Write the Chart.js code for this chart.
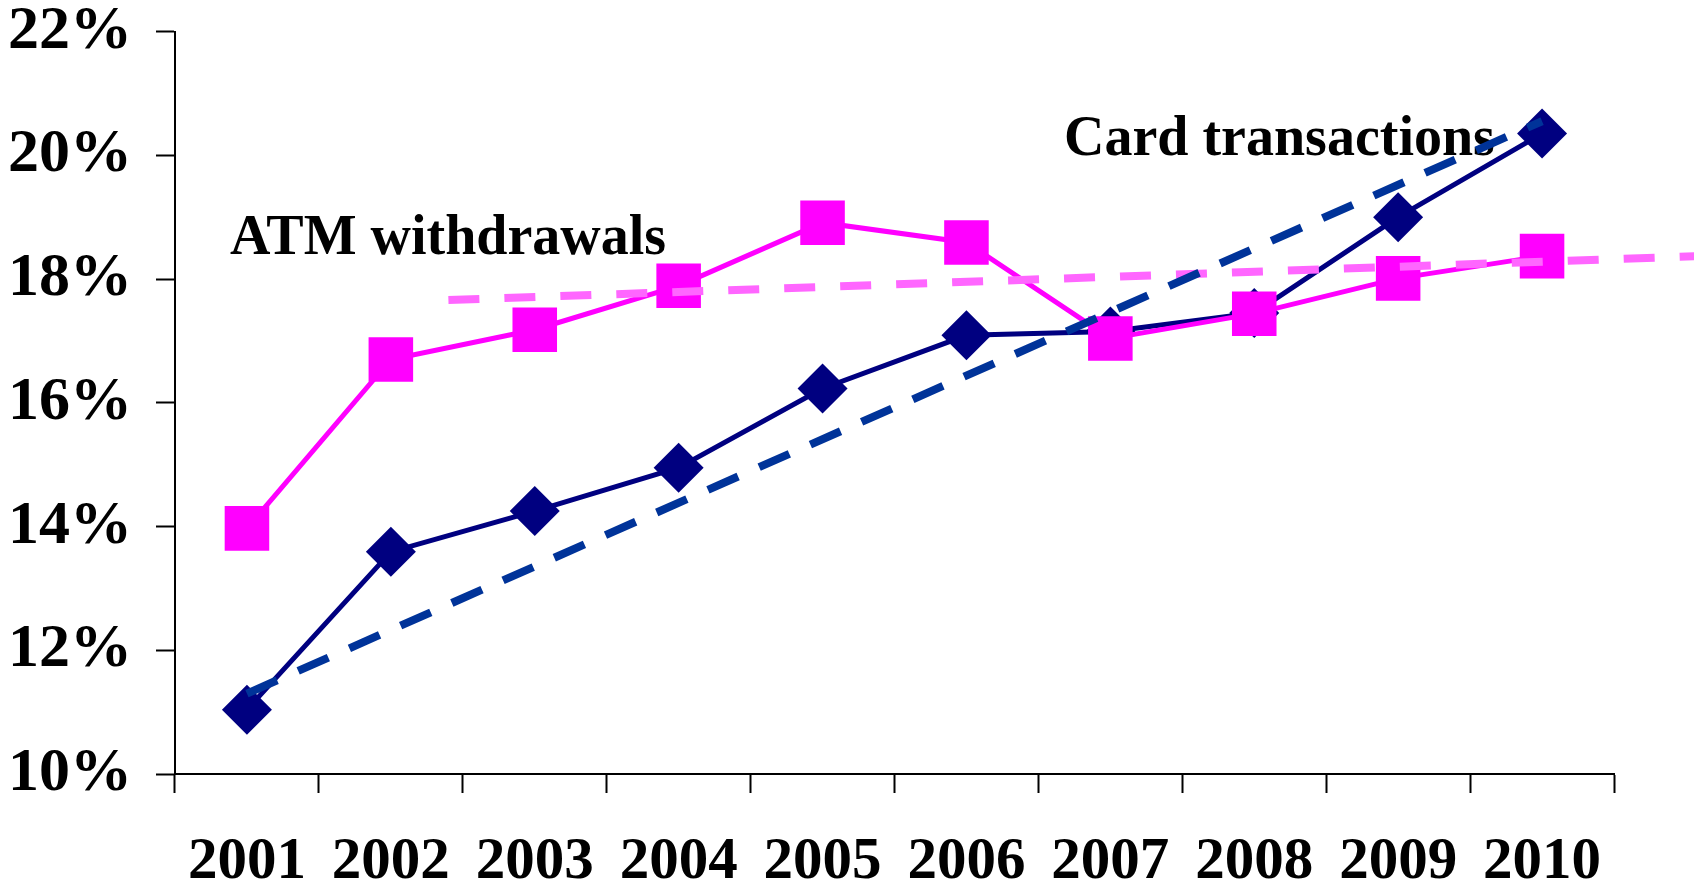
<!DOCTYPE html>
<html>
<head>
<meta charset="utf-8">
<script src="https://cdn.jsdelivr.net/npm/chart.js@4.4.1/dist/chart.umd.min.js"></script>
<style>
  html, body { margin: 0; padding: 0; background: #fff; }
  #wrap { width: 1694px; height: 885px; position: relative; }
</style>
</head>
<body>
<div id="wrap"><canvas id="shareChart"></canvas></div>
<script>
// values (percent)
const years = ['2001', '2002', '2003', '2004', '2005', '2006', '2007', '2008', '2009', '2010'];
const cardTransactions = [11.04, 13.59, 14.25, 14.95, 16.23, 17.09, 17.15, 17.45, 19.0, 20.35];
const atmWithdrawals = [13.97, 16.7, 17.18, 17.89, 18.91, 18.59, 17.04, 17.44, 18.01, 18.37];

// trend lines: start / end points (year, percent)
const cardTrendYears = [2001, 2010];
const cardTrendValues = [11.3, 20.55];
const atmTrendYears = [2002.4, 2011.1];
const atmTrendValues = [17.66, 18.37];

const serif = "'Liberation Serif', 'Times New Roman', serif";

function toPoints(xs, ys) {
  return xs.map((x, i) => ({ x: x, y: ys[i] }));
}

// series names written inside the plot
const seriesLabels = {
  id: 'seriesLabels',
  beforeDatasetsDraw(chart) {
    const { ctx, chartArea, scales } = chart;
    ctx.save();
    ctx.font = 'bold 56px ' + serif;
    ctx.fillStyle = '#000';
    ctx.textBaseline = 'alphabetic';
    ctx.fillText('ATM withdrawals', chartArea.left + 55, scales.y.getPixelForValue(18.4));
    ctx.fillText('Card transactions', chartArea.left + 889, scales.y.getPixelForValue(20.0));
    ctx.restore();
  }
};

const ctx = document.getElementById('shareChart');

new Chart(ctx, {
  type: 'line',
  data: {
    labels: years,
    datasets: [
      {
        label: 'Card trend',
        data: toPoints(cardTrendYears, cardTrendValues),
        xAxisID: 'xt',
        borderColor: '#003399',
        borderWidth: 8,
        borderDash: [33, 23],
        pointRadius: 0,
        clip: false
      },
      {
        label: 'ATM trend',
        data: toPoints(atmTrendYears, atmTrendValues),
        xAxisID: 'xt',
        borderColor: '#FF66FF',
        borderWidth: 8,
        borderDash: [31, 25],
        pointRadius: 0,
        clip: false
      },
      {
        label: 'ATM withdrawals',
        data: atmWithdrawals,
        xAxisID: 'x',
        borderColor: '#FF00FF',
        borderWidth: 5,
        pointStyle: 'rect',
        pointRadius: 31.5,
        pointBackgroundColor: '#FF00FF',
        pointBorderWidth: 0,
        clip: false
      },
      {
        label: 'Card transactions',
        data: cardTransactions,
        xAxisID: 'x',
        borderColor: '#000080',
        borderWidth: 5,
        pointStyle: 'rectRot',
        pointRadius: 25,
        pointBackgroundColor: '#000080',
        pointBorderWidth: 0,
        clip: false
      }
    ]
  },
  options: {
    responsive: true,
    maintainAspectRatio: false,
    animation: false,
    events: [],
    layout: {
      padding: { left: 0, top: 31, right: 80, bottom: 0 }
    },
    elements: {
      line: { tension: 0 }
    },
    scales: {
      x: {
        type: 'category',
        offset: true,
        afterFit: scale => { scale.height = 111; },
        grid: {
          offset: true,
          drawOnChartArea: false,
          tickLength: 19,
          tickWidth: 2,
          tickColor: '#000'
        },
        border: { color: '#000', width: 2 },
        ticks: {
          color: '#000',
          padding: 40,
          maxRotation: 0,
          font: { family: serif, weight: 'bold', size: 59, lineHeight: 1 }
        }
      },
      xt: {
        type: 'linear',
        display: false,
        min: 2000.5,
        max: 2010.5
      },
      y: {
        min: 10,
        max: 22,
        afterFit: scale => {
          scale.width = 175;
          scale.paddingTop = 0;
          scale.paddingBottom = 0;
        },
        grid: {
          drawOnChartArea: false,
          tickLength: 19,
          tickWidth: 2,
          tickColor: '#000'
        },
        border: { color: '#000', width: 2 },
        ticks: {
          stepSize: 2,
          color: '#000',
          padding: 24,
          font: { family: serif, weight: 'bold', size: 62, lineHeight: 1 },
          callback: value => value + '%'
        }
      }
    },
    plugins: {
      legend: { display: false },
      tooltip: { enabled: false }
    }
  },
  plugins: [seriesLabels]
});
</script>
</body>
</html>
